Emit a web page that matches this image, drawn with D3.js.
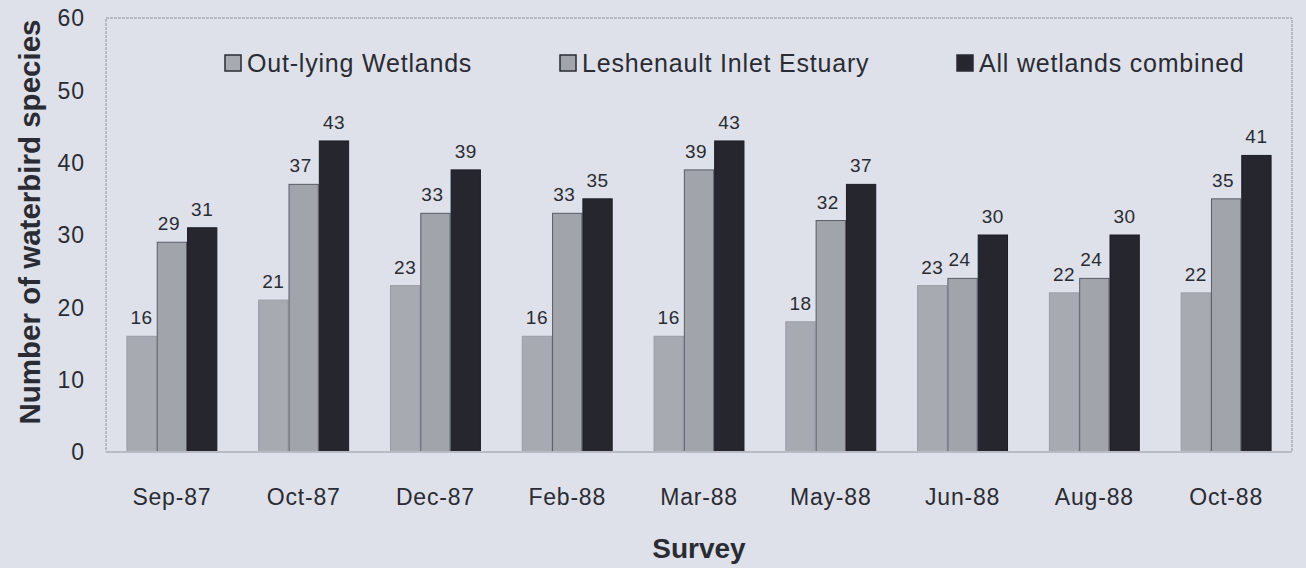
<!DOCTYPE html>
<html>
<head>
<meta charset="utf-8">
<script src="https://cdn.jsdelivr.net/npm/d3@7"></script>
<style>
  body { margin: 0; background: #dee1e9; }
  svg { display: block; font-family: "Liberation Sans", Arial, sans-serif; }
</style>
</head>
<body>
<svg id="chart" width="1306" height="568"></svg>
<script>
var surveys = ["Sep-87", "Oct-87", "Dec-87", "Feb-88", "Mar-88", "May-88", "Jun-88", "Aug-88", "Oct-88"];
var seriesNames = ["Out-lying Wetlands", "Leshenault Inlet Estuary", "All wetlands combined"];
var outlying = [16, 21, 23, 16, 16, 18, 23, 22, 22];
var leschenault = [29, 37, 33, 33, 39, 32, 24, 24, 35];
var combined = [31, 43, 39, 35, 43, 37, 30, 30, 41];
var yTicks = [0, 10, 20, 30, 40, 50, 60];

var fills = ["#a8aab2", "#a2a4ac", "#25262e"];
var strokes = ["#9a9ca4", "#5a5c64", "#1c1d24"];

var svg = d3.select("#chart");
var margin = { left: 106, right: 14, top: 18, bottom: 116 };
var width = 1306 - margin.left - margin.right,
    height = 568 - margin.top - margin.bottom;

var g = svg.append("g").attr("transform", "translate(" + margin.left + "," + margin.top + ")");

var x = d3.scaleBand().domain(surveys).range([0, width]).paddingInner(0.31).paddingOuter(0.155);
var xs = d3.scaleBand().domain([0, 1, 2]).range([0, x.bandwidth()]);
var y = d3.scaleLinear().domain([0, 60]).range([height, 0]);

// plot frame
g.append("rect")
    .attr("width", width).attr("height", height)
    .attr("fill", "none")
    .attr("stroke", "#8f929b")
    .attr("stroke-width", 1)
    .attr("stroke-dasharray", "3,1");

// y axis labels
g.selectAll(".ytick").data(yTicks).enter().append("text")
    .attr("x", -21)
    .attr("y", function (d) { return y(d); })
    .attr("dy", "0.36em")
    .attr("text-anchor", "end")
    .attr("font-size", 23)
    .attr("letter-spacing", 1)
    .attr("fill", "#2a2b33")
    .text(function (d) { return d; });

var series = [outlying, leschenault, combined];

var groups = g.selectAll(".grp").data(surveys).enter().append("g")
    .attr("transform", function (d) { return "translate(" + x(d) + ",0)"; });

groups.each(function (s, i) {
    var grp = d3.select(this);
    series.forEach(function (vals, k) {
        grp.append("rect")
            .attr("x", xs(k) + 0.5)
            .attr("y", y(vals[i]))
            .attr("width", xs.bandwidth() - 1)
            .attr("height", height - y(vals[i]))
            .attr("fill", fills[k])
            .attr("stroke", strokes[k])
            .attr("stroke-width", 1);
        grp.append("text")
            .attr("x", xs(k) + xs.bandwidth() / 2 - (k === 1 ? 3 : 0))
            .attr("y", y(vals[i]) - 12)
            .attr("text-anchor", "middle")
            .attr("font-size", 19)
            .attr("letter-spacing", 0.5)
            .attr("fill", "#2a2b33")
            .text(vals[i]);
    });
});

// bottom axis line
g.append("line")
    .attr("x1", 0).attr("x2", width)
    .attr("y1", height).attr("y2", height)
    .attr("stroke", "#b8bbc3").attr("stroke-width", 2);

// x labels
g.selectAll(".xtick").data(surveys).enter().append("text")
    .attr("x", function (d) { return x(d) + x.bandwidth() / 2; })
    .attr("y", height + 53)
    .attr("text-anchor", "middle")
    .attr("font-size", 23)
    .attr("letter-spacing", 0.8)
    .attr("fill", "#2a2b33")
    .text(function (d) { return d; });

// axis titles
svg.append("text")
    .attr("transform", "translate(29,222) rotate(-90)")
    .attr("text-anchor", "middle")
    .attr("dy", "0.36em")
    .attr("font-size", 29.5)
    .attr("font-weight", "bold")
    .attr("fill", "#2a2b33")
    .text("Number of waterbird species");

svg.append("text")
    .attr("x", margin.left + width / 2)
    .attr("y", 558)
    .attr("text-anchor", "middle")
    .attr("font-size", 28)
    .attr("font-weight", "bold")
    .attr("fill", "#2a2b33")
    .text("Survey");

// legend
var legendX = [225, 560, 957];
var legend = svg.selectAll(".leg").data(seriesNames).enter().append("g")
    .attr("transform", function (d, i) { return "translate(" + legendX[i] + ",63)"; });
legend.append("rect")
    .attr("x", 0).attr("y", -8)
    .attr("width", 16).attr("height", 16)
    .attr("fill", function (d, i) { return fills[i]; })
    .attr("stroke", "#2a2b33")
    .attr("stroke-width", 1.5);
legend.append("text")
    .attr("x", 22)
    .attr("dy", "0.36em")
    .attr("font-size", 25)
    .attr("letter-spacing", 0.8)
    .attr("fill", "#2a2b33")
    .text(function (d) { return d; });
</script>
</body>
</html>
